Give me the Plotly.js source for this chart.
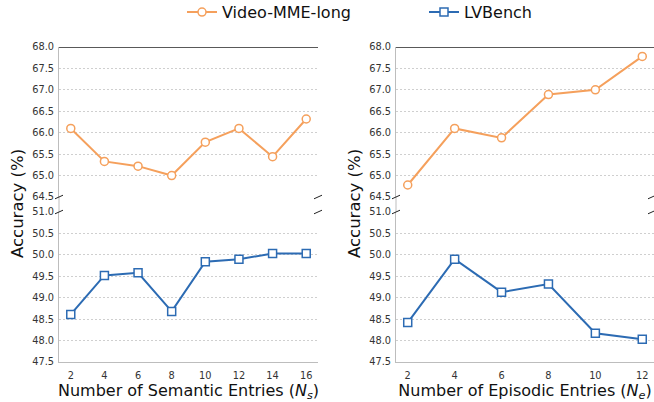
<!DOCTYPE html>
<html>
<head>
<meta charset="utf-8">
<script src="https://cdn.plot.ly/plotly-3.0.1.min.js"></script>
<style>html,body{margin:0;padding:0;background:#fff;}#chart{width:654px;height:402px;}</style>
</head>
<body>
<div id="chart"></div>
<script>
// ---- data ----
const semanticEntries = [2, 4, 6, 8, 10, 12, 14, 16];
const semanticVideoMME = [66.10, 65.33, 65.22, 65.00, 65.78, 66.10, 65.44, 66.32];
const semanticLVBench = [48.61, 49.52, 49.58, 48.68, 49.84, 49.90, 50.03, 50.03];

const episodicEntries = [2, 4, 6, 8, 10, 12];
const episodicVideoMME = [64.78, 66.10, 65.88, 66.89, 67.00, 67.78];
const episodicLVBench = [48.42, 49.90, 49.13, 49.32, 48.17, 48.03];

const seriesNames = ["Video-MME-long", "LVBench"];
const topTicks = [64.5, 65.0, 65.5, 66.0, 66.5, 67.0, 67.5, 68.0];
const bottomTicks = [47.5, 48.0, 48.5, 49.0, 49.5, 50.0, 50.5, 51.0];

// ---- styles ----
const W = 654, H = 402;
const ORANGE = "#F5A05C", BLUE = "#2C6BB3";
const FONT = "DejaVu Sans, Liberation Sans, sans-serif";
const px = v => v / W, py = v => 1 - v / H;

const leftDom = [px(59), px(318)];
const rightDom = [px(396), px(654)];
const topDom = [py(197), py(47)];
const botDom = [py(362), py(212)];

function tr(x, y, name, color, symbol, xa, ya, show) {
  return {
    x: x, y: y, name: name, type: "scatter", mode: "lines+markers",
    xaxis: xa, yaxis: ya, showlegend: show, cliponaxis: false,
    line: {color: color, width: 2},
    marker: {symbol: symbol, size: 8, color: "#ffffff", line: {color: color, width: 1.5}}
  };
}

const data = [
  tr(semanticEntries, semanticVideoMME, seriesNames[0], ORANGE, "circle", "x", "y", true),
  tr(semanticEntries, semanticLVBench, seriesNames[1], BLUE, "square", "x", "y2", true),
  tr(episodicEntries, episodicVideoMME, seriesNames[0], ORANGE, "circle", "x2", "y3", false),
  tr(episodicEntries, episodicLVBench, seriesNames[1], BLUE, "square", "x2", "y4", false)
];

function yax(dom, ticks, anchor) {
  return {
    domain: dom, anchor: anchor, automargin: false,
    range: [ticks[0], ticks[ticks.length - 1]],
    tickvals: ticks, ticktext: ticks.map(v => v.toFixed(1)),
    showgrid: true, gridcolor: "#cfcfcf", gridwidth: 1, griddash: "2px,2px",
    zeroline: false, showline: true, linecolor: "#bdbdbd", linewidth: 1,
    ticks: "", ticklabelstandoff: 2,
    tickfont: {family: FONT, size: 9.8, color: "#333333"}
  };
}
function xax(dom, ticks, anchor, title) {
  const span = ticks[ticks.length-1] - ticks[0];
  return {
    domain: dom, anchor: anchor, automargin: false,
    range: [ticks[0] - span * 0.05, ticks[ticks.length-1] + span * 0.05],
    tickvals: ticks, showgrid: false, zeroline: false,
    showline: true, linecolor: "#bdbdbd", linewidth: 1,
    ticks: "", ticklabelstandoff: 4,
    tickfont: {family: FONT, size: 9.8, color: "#333333"},
    title: {text: title, font: {family: FONT, size: 16, color: "#111111"}, standoff: 4}
  };
}

const shapes = [];
// top spine (dark) at the upper limit of each top panel
[["x", "y", 68.0], ["x2", "y3", 68.0]].forEach(([xa, ya, v]) => {
  shapes.push({type: "line", xref: xa + " domain", yref: ya, x0: 0, x1: 1, y0: v, y1: v,
    line: {color: "#222222", width: 1.3}});
});
// left spine continuation across the break
[leftDom[0], rightDom[0]].forEach(xp => {
  shapes.push({type: "line", xref: "paper", yref: "paper", x0: xp, x1: xp, y0: botDom[1], y1: topDom[0],
    line: {color: "#bdbdbd", width: 1}});
});
// break marks
[59, 318, 396, 652].forEach(xpix => {
  [197, 212].forEach(ypix => {
    shapes.push({type: "line", xref: "paper", yref: "paper",
      x0: px(xpix - 4), x1: px(xpix + 4), y0: py(ypix + 1.8), y1: py(ypix - 1.8),
      line: {color: "#222222", width: 1}});
  });
});

const annotations = [
  {text: "Accuracy (%)", xref: "paper", yref: "paper", x: px(17), y: py(204), textangle: -90,
   showarrow: false, xanchor: "center", yanchor: "middle", font: {family: FONT, size: 16.5, color: "#111111"}},
  {text: "Accuracy (%)", xref: "paper", yref: "paper", x: px(354), y: py(204), textangle: -90,
   showarrow: false, xanchor: "center", yanchor: "middle", font: {family: FONT, size: 16.5, color: "#111111"}}
];

const layout = {
  width: W, height: H,
  margin: {l: 0, r: 0, t: 0, b: 0, autoexpand: false},
  paper_bgcolor: "#ffffff", plot_bgcolor: "#ffffff",
  font: {family: FONT},
  showlegend: true,
  legend: {orientation: "h", x: px(182), y: 1.012, xanchor: "left", yanchor: "top",
    font: {family: FONT, size: 16, color: "#111111"}, bgcolor: "rgba(0,0,0,0)", entrywidth: 197},
  xaxis: xax(leftDom, semanticEntries, "y2", "Number of Semantic Entries (<i>N</i><sub><i>s</i></sub>)"),
  xaxis2: xax(rightDom, episodicEntries, "y4", "Number of Episodic Entries (<i>N</i><sub><i>e</i></sub>)"),
  yaxis: yax(topDom, topTicks, "x"),
  yaxis2: yax(botDom, bottomTicks, "x"),
  yaxis3: yax(topDom, topTicks, "x2"),
  yaxis4: yax(botDom, bottomTicks, "x2"),
  shapes: shapes,
  annotations: annotations
};

Plotly.newPlot("chart", data, layout, {displayModeBar: false, staticPlot: true});
</script>
</body>
</html>
